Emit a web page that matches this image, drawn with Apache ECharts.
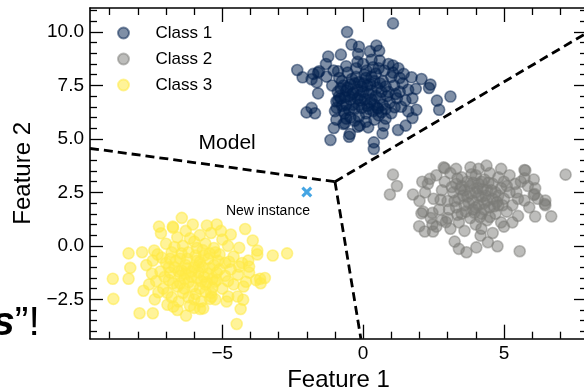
<!DOCTYPE html>
<html>
<head>
<meta charset="utf-8">
<script src="https://cdn.jsdelivr.net/npm/echarts@6/dist/echarts.min.js"></script>
<style>
  html, body { margin: 0; padding: 0; background: #fff; }
  #chart { width: 584px; height: 390px; }
</style>
</head>
<body>
<div id="chart"></div>
<script>
// --- data ---
var classNames = ['Class 1', 'Class 2', 'Class 3'];

var class1 = [
  [1.06,10.4],[-0.57,10.0],[-0.41,9.41],[-0.15,9.31],[0.47,9.36],[0.57,9.12],[0.24,9.09],[-0.18,8.97],
  [-0.79,8.94],[-1.24,8.85],[-1.32,8.5],[-2.34,8.22],[-2.15,7.88],[-1.77,8.04],[-1.56,8.16],[-1.3,7.91],
  [-1.65,7.65],[-1.6,7.13],[-0.89,8.16],[0,8.5],[0.12,8.19],[0.35,8.35],[0.59,8.66],[1.06,8.43],[1.06,8.1],
  [1.44,8.04],[1.72,7.88],[2.07,7.8],[2.39,7.54],[2.34,7.38],[1.87,7.34],[1.75,6.9],[2.62,6.79],[3.1,6.98],
  [2.7,6.36],[1.89,6.36],[1.6,6.29],[1.75,5.98],[1.51,5.62],[1.24,5.42],[0.73,5.62],[0.69,5.26],[0.53,6.41],
  [1.12,6.48],[0.38,4.84],[0.38,4.53],[-0.47,5.23],[-0.5,5.1],[-1.16,4.95],[-1.04,5.51],[-2.01,6.24],
  [-1.83,6.45],[-1.71,6.2],[-0.94,6.45],[-0.89,6.79],[0.18,5.54],[-0.12,5.62],[-1.6,8.1],[-1.83,7.79],
  [-0.65,5.73],[-0.19,5.57],
  [-0.9,7.2],[-0.8,6.9],[-0.7,7.5],[-0.6,6.6],[-0.5,7.0],[-0.4,7.8],[-0.3,6.4],[-0.2,7.3],[-0.1,6.8],
  [0.0,7.6],[0.1,6.2],[0.2,7.1],[0.3,7.9],[0.4,6.6],[0.5,7.4],[0.6,6.9],[0.7,7.7],[0.8,6.4],[0.9,7.2],
  [1.0,7.9],[-1.0,6.3],[-0.85,7.85],[-0.65,6.2],[-0.55,8.1],[-0.45,6.0],[-0.35,7.15],[-0.25,8.3],
  [-0.15,6.05],[-0.05,7.45],[0.05,8.0],[0.15,6.55],[0.25,7.55],[0.35,6.3],[0.45,8.05],[0.55,6.1],
  [0.65,7.2],[0.75,8.2],[0.85,7.0],[0.95,6.7],[1.1,7.5],[-0.75,6.55],[-0.6,7.25],[-0.45,6.85],[-0.3,7.6],
  [-0.1,7.05],[0.1,7.85],[0.3,6.85],[0.5,6.45],[0.7,6.6],[1.2,6.9],[1.3,7.2],[1.4,7.6],[1.5,6.8],
  [1.25,8.3],[1.35,6.5],[-0.95,5.9],[-0.7,5.7],[-0.3,5.85],[0.1,5.8],[0.4,5.9],[0.8,5.95],[-0.2,8.6],
  [0.3,8.7],[-0.6,8.4],[0.9,8.5],[-1.05,8.2],[-1.1,7.5],[1.6,7.3],[1.0,6.2],[-0.15,6.6],
  [-0.85,7.0],[-0.75,7.7],[-0.7,6.3],[-0.55,7.4],[-0.5,6.35],[-0.4,7.1],[-0.35,6.6],[-0.25,7.9],
  [-0.2,6.9],[-0.05,6.45],[0.0,7.2],[0.05,6.85],[0.15,7.5],[0.2,6.4],[0.3,7.25],[0.4,7.7],[0.45,7.0],
  [-0.65,6.95],[-0.95,6.75],[-0.8,7.35],[0.6,7.6],[0.65,6.25],[0.8,7.45],[1.15,7.1],[1.3,7.85],
  [-0.45,7.55],[-0.15,7.65],[0.25,6.7],[-0.6,5.95],[0.55,8.3]
];

var class2 = [
  [1.06,3.33],[1.2,2.8],[0.95,2.4],[1.77,2.4],[2.86,3.67],[3.81,3.67],[4.38,3.75],[5.73,3.55],[7.19,3.33],
  [2.13,1.6],[1.99,0.92],[2.19,0.67],[2.48,0.67],[2.46,1.54],[2.46,1.0],[3.25,0.2],[3.4,-0.14],[3.67,-0.3],
  [2.9,3.63],[2.37,3.13],[5.76,3.52],[5.73,3.16],[6.06,3.1],[6.11,2.69],[6.06,2.38],[6.47,2.12],[6.47,1.9],
  [6.11,1.37],[6.68,1.38],[4.43,0.17],[4.77,-0.02],[5.56,-0.25],[4.17,0.48],[5.44,2.5],[5.73,2.12],
  [2.07,1.52],[2.94,1.11],[4.02,-0.07],[6.45,1.96],[6.09,2.42],
  [2.3,2.9],[2.5,2.2],[2.6,3.3],[2.7,1.7],[2.8,2.6],[2.9,3.0],[3.0,1.3],[3.0,2.1],[3.1,3.4],[3.2,2.5],
  [3.3,1.8],[3.3,2.9],[3.4,1.1],[3.4,2.2],[3.5,3.2],[3.5,1.5],[3.6,2.6],[3.6,1.9],[3.7,3.0],[3.7,2.3],
  [3.8,1.3],[3.8,2.8],[3.9,1.7],[3.9,2.1],[4.0,3.3],[4.0,2.5],[4.0,1.0],[4.1,1.9],[4.1,2.9],[4.2,2.3],
  [4.2,1.5],[4.3,3.1],[4.3,2.0],[4.4,2.6],[4.4,1.2],[4.5,1.8],[4.5,3.4],[4.6,2.2],[4.6,2.9],[4.7,1.5],
  [4.7,2.5],[4.8,3.2],[4.8,1.9],[4.9,2.7],[4.9,1.1],[5.0,2.2],[5.0,3.0],[5.1,1.6],[5.2,2.5],[5.2,3.3],
  [5.3,1.9],[5.4,2.9],[5.5,1.4],[5.5,2.2],[5.6,3.0],[2.4,1.3],[2.6,0.9],[2.8,1.2],[3.1,0.8],[3.6,0.7],
  [4.2,0.8],[4.6,0.6],[5.0,0.9],[5.3,1.1],[2.2,2.5],[2.0,2.1],[2.1,3.0],[3.3,3.6],[4.1,3.6],[4.9,3.6],
  [3.45,2.65],[3.75,2.0],[4.05,2.7],[4.35,2.35],[3.55,2.35],[3.85,3.35],[4.15,1.35],[4.45,2.95],
  [3.25,2.1],[4.75,2.05],[3.95,1.55],[4.25,2.65],[5.85,2.8],[5.9,1.8],[6.2,2.2],
  [3.15,2.75],[3.35,1.45],[3.5,2.8],[3.65,1.6],[3.8,2.45],[3.9,2.95],[4.0,1.8],[4.1,2.35],[4.2,3.0],
  [4.3,1.7],[4.4,2.1],[4.55,2.6],[4.65,1.85],[4.8,2.35],[4.95,1.9],[3.35,3.15],[3.05,1.7],[4.5,1.35],
  [2.75,2.15],[5.1,2.8]
];

var class3 = [
  [-6.44,1.31],[-6.76,0.9],[-7.18,0.59],[-5.2,1.0],[-4.7,0.53],[-4.19,0.79],[-3.92,0.25],[-4.4,-0.09],
  [-3.76,-0.22],[-3.76,-0.4],[-3.21,-0.45],[-2.7,-0.35],[-4.08,-0.69],[-8.33,-0.35],[-7.42,-0.22],
  [-7.47,-0.69],[-8.27,-1.03],[-8.89,-1.54],[-8.33,-1.54],[-8.87,-2.48],[-7.94,-3.15],[-7.47,-3.15],
  [-6.29,-3.26],[-4.49,-3.65],[-4.35,-2.95],[-4.26,-2.52],[-4.79,-2.37],[-4.46,-2.37],[-5.44,-2.48],
  [-5.79,-2.95],[-6.0,-2.9],[-6.74,-2.84],[-7.27,-2.17],[-3.66,-1.54],[-3.49,-1.5],[-3.8,-1.6],
  [-4.76,-0.74],[-4.4,-0.97],[-4.05,-0.97],[-3.64,-1.75],[-4.16,-1.68],[-5.26,-1.68],[-4.8,-1.65],
  [-5.38,-2.38],[-5.68,-2.92],
  [-7.3,-0.4],[-7.2,-1.2],[-7.1,-2.0],[-7.0,-0.8],[-7.0,0.1],[-6.9,-1.6],[-6.8,-0.3],[-6.8,-2.4],
  [-6.7,-1.0],[-6.6,0.4],[-6.6,-1.9],[-6.5,-0.6],[-6.5,-1.4],[-6.4,0.0],[-6.4,-2.2],[-6.3,-0.9],
  [-6.3,0.7],[-6.2,-1.7],[-6.2,-0.3],[-6.1,-1.2],[-6.0,-2.5],[-6.0,0.2],[-5.9,-0.7],[-5.9,-1.5],
  [-5.8,-2.0],[-5.8,0.5],[-5.7,-1.0],[-5.7,-0.2],[-5.6,-1.8],[-5.6,0.1],[-5.5,-0.6],[-5.5,-1.3],
  [-5.4,-2.2],[-5.4,0.6],[-5.3,-0.9],[-5.3,-0.1],[-5.2,-1.6],[-5.1,-0.4],[-5.1,-1.1],[-5.0,0.3],
  [-5.0,-2.0],[-4.9,-0.8],[-4.9,-1.4],[-4.8,0.0],[-4.7,-1.1],[-4.6,-0.5],[-4.6,-1.8],
  [-7.6,-1.8],[-7.5,-1.3],[-7.4,-2.5],[-7.7,-0.9],[-7.8,-2.1],[-6.95,-2.75],[-6.55,-2.6],[-6.15,-2.8],
  [-5.75,-2.6],[-5.25,-2.5],[-6.75,0.85],[-6.05,1.0],[-5.55,0.95],[-5.65,-1.45],[-6.35,-1.55],
  [-6.85,-1.25],[-5.95,-0.45],[-6.25,-0.6],[-5.45,-0.35],[-6.65,-0.7],[-5.85,-1.25],[-6.45,-1.15],
  [-5.35,-1.95],[-6.05,-1.9],[-5.15,-0.7],[-4.45,-1.35],[-4.3,-0.8],[-4.25,-1.9],[-4.05,-1.25],
  [-7.25,0.9],[-7.85,-0.3],[-5.05,0.7],[-4.85,-2.6],[-6.6,-3.0],
  [-7.15,-0.55],[-7.05,-1.45],[-6.95,-2.2],[-6.85,-0.6],[-6.75,-1.75],[-6.7,-0.05],[-6.55,-1.2],
  [-6.45,-0.35],[-6.35,-2.0],[-6.25,-1.05],[-6.15,0.35],[-6.1,-1.45],[-5.95,-2.25],[-5.9,-0.1],
  [-5.85,-0.95],[-5.75,-1.65],[-5.65,-0.45],[-5.6,-2.15],[-5.45,-1.05],[-5.35,-1.55],[-5.25,-0.3],
  [-5.2,-1.25],[-6.9,-1.0],[-6.5,-1.75],[-6.2,-2.4],[-5.8,-0.75],[-5.55,-1.7],[-7.35,-1.65],
  [-6.3,-1.3],[-6.0,-1.0]
];

// decision boundaries (each a 2-point segment from the junction)
var boundaryLeft  = [[-9.7, 4.56], [-1.0, 3.0]];
var boundaryRight = [[-1.0, 3.0], [7.95, 9.96]];
var boundaryDown  = [[-1.0, 3.0], [-0.08, -4.34]];

var newInstance = [[-2.0, 2.52]];
var annotationNames = ['Model', 'New instance'];
var annotationPos = [[-4.83, 4.81], [-3.38, 1.62]];

// axis limits and ticks
var xRange = [-9.7, 7.95];
var yRange = [-4.34, 11.12];
var xMajor = [-5, 0, 5];
var xMinor = [-9, -8, -7, -6, -4, -3, -2, -1, 1, 2, 3, 4, 6, 7];
var yMajor = [-2.5, 0, 2.5, 5, 7.5, 10];
var yMinor = [-4, -3.5, -3, -2, -1.5, -1, -0.5, 0.5, 1, 1.5, 2, 3, 3.5, 4, 4.5, 5.5, 6, 6.5, 7, 8, 8.5, 9, 9.5, 10.5, 11];

var colors = ['#00204D', '#7C7B78', '#FFEA46'];
var FONT = "'Liberation Sans', Arial, Helvetica, sans-serif";

function minus(s) { return s.replace('-', '\u2212'); }

function makeAxis(range, pos, ticks, len, withLine, labels, fmt) {
  return {
    type: 'value',
    min: range[0],
    max: range[1],
    position: pos,
    axisLine: { show: withLine, onZero: false, lineStyle: { color: '#000', width: 1.6 } },
    axisTick: { show: true, inside: true, length: len, customValues: ticks,
                lineStyle: { color: '#000', width: 1.3 } },
    axisLabel: labels ? { show: true, customValues: ticks, formatter: fmt,
                          fontSize: 19, color: '#000', fontFamily: FONT, margin: 6 }
                      : { show: false },
    splitLine: { show: false }
  };
}

var xFmt = function (v) { return minus(String(v)); };
var yFmt = function (v) { return minus(v.toFixed(1)); };

var xAxes = [
  makeAxis(xRange, 'bottom', xMajor, 14, true, true, xFmt),
  makeAxis(xRange, 'bottom', xMinor, 7, false, false),
  makeAxis(xRange, 'top', xMajor, 14, true, false),
  makeAxis(xRange, 'top', xMinor, 7, false, false)
];
xAxes[0].name = 'Feature 1';
xAxes[0].nameLocation = 'middle';
xAxes[0].nameGap = 27;
xAxes[0].nameTextStyle = { fontSize: 24, color: '#000', fontFamily: FONT };

var yAxes = [
  makeAxis(yRange, 'left', yMajor, 13, true, true, yFmt),
  makeAxis(yRange, 'left', yMinor, 7, false, false),
  makeAxis(yRange, 'right', yMajor, 13, true, false),
  makeAxis(yRange, 'right', yMinor, 7, false, false)
];
yAxes[0].name = 'Feature 2';
yAxes[0].nameLocation = 'middle';
yAxes[0].nameGap = 53;
yAxes[0].nameTextStyle = { fontSize: 24, color: '#000', fontFamily: FONT };

function classSeries(name, data, color, alpha) {
  return {
    name: name,
    type: 'scatter',
    data: data,
    symbol: 'circle',
    symbolSize: 11,
    itemStyle: { color: color, opacity: alpha, borderColor: color, borderWidth: 1.6 },
    emphasis: { disabled: true }
  };
}

function boundarySeries(data) {
  return {
    type: 'line',
    data: data,
    symbol: 'none',
    silent: true,
    z: 5,
    lineStyle: { color: '#000', width: 2.8, type: [9, 5] }
  };
}

var annotationData = annotationNames.map(function (n, i) {
  return {
    name: n,
    value: annotationPos[i],
    label: { fontSize: i === 0 ? 21 : 14 }
  };
});

var chart = echarts.init(document.getElementById('chart'), null, { renderer: 'canvas' });

var option = {
  animation: false,
  textStyle: { fontFamily: FONT },
  grid: { left: 90, top: 8, width: 497, height: 330.7, outerBoundsMode: 'none', containLabel: false },
  xAxis: xAxes,
  yAxis: yAxes,
  legend: {
    orient: 'vertical',
    left: 112,
    top: 18,
    itemWidth: 54,
    itemHeight: 11,
    itemGap: 6,
    icon: 'circle',
    data: classNames,
    textStyle: { fontSize: 17, color: '#000', fontFamily: FONT, lineHeight: 20 }
  },
  graphic: [{
    type: 'text',
    left: -8,
    top: 303,
    style: {
      text: '{a|s}{b|\u201D!}',
      rich: {
        a: { fontSize: 41, fontWeight: 'bold', fontStyle: 'italic', fill: '#000', fontFamily: FONT },
        b: { fontSize: 41, fill: '#000', fontFamily: FONT }
      }
    }
  }],
  series: [
    classSeries(classNames[0], class1, colors[0], 0.5),
    classSeries(classNames[1], class2, colors[1], 0.5),
    classSeries(classNames[2], class3, colors[2], 0.55),
    boundarySeries(boundaryLeft),
    boundarySeries(boundaryRight),
    boundarySeries(boundaryDown),
    {
      type: 'scatter',
      data: newInstance,
      z: 6,
      symbol: 'path://M2,0L5,3L8,0L10,2L7,5L10,8L8,10L5,7L2,10L0,8L3,5L0,2Z',
      symbolSize: 11,
      itemStyle: { color: '#45A5E3', opacity: 1 },
      silent: true
    },
    {
      type: 'scatter',
      data: annotationData,
      symbolSize: 0,
      silent: true,
      z: 7,
      itemStyle: { opacity: 1 },
      label: {
        show: true,
        position: 'inside',
        formatter: '{b}',
        color: '#000',
        opacity: 1,
        fontFamily: FONT,
        fontSize: 21
      }
    }
  ]
};

chart.setOption(option);
</script>
</body>
</html>
